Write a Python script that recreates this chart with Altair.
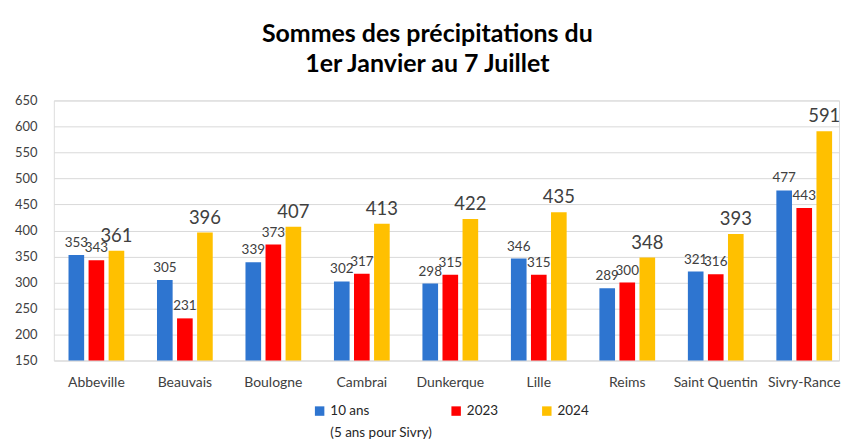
import altair as alt
import pandas as pd

cats = ["Abbeville", "Beauvais", "Boulogne", "Cambrai", "Dunkerque",
        "Lille", "Reims", "Saint Quentin", "Sivry-Rance"]
series = ["10 ans", "2023", "2024"]
v10 = [353, 305, 339, 302, 298, 346, 289, 321, 477]
v2023 = [343, 231, 373, 317, 315, 315, 300, 316, 443]
v2024 = [361, 396, 407, 413, 422, 435, 348, 393, 591]
colors = ["#2E75D0", "#FF0000", "#FFC000"]
y_ticks = [150, 200, 250, 300, 350, 400, 450, 500, 550, 600, 650]

rows = []
for s, vals in zip(series, [v10, v2023, v2024]):
    for c, v in zip(cats, vals):
        rows.append({"ville": c, "serie": s, "valeur": v})
df = pd.DataFrame(rows)

FONT = "Lato"
PAD = "\u00a0" * 7 + "\u200b"

label_expr = (
    "datum.label == '10 ans' ? ['10 ans', '(5 ans pour Sivry)'] : "
    "(datum.label == '2023' ? '2023" + PAD + "' : datum.label)"
)

x = alt.X("ville:N", sort=cats, title=None,
          scale=alt.Scale(paddingInner=0.37, paddingOuter=0.122, align=0.68),
          axis=alt.Axis(labelAngle=0, labelFontSize=14, labelColor="#404040",
                        labelFont=FONT, labelPadding=15, ticks=False,
                        domain=False))
xo = alt.XOffset("serie:N", sort=series, scale=alt.Scale(paddingInner=0.22))
y = alt.Y("valeur:Q", title=None,
          scale=alt.Scale(domain=[150, 650], zero=False, nice=False),
          axis=alt.Axis(values=y_ticks, labelFontSize=13, labelColor="#404040",
                        labelFont=FONT, labelPadding=17, ticks=False,
                        domain=False, gridColor="#d9d9d9", gridWidth=1))

color = alt.Color("serie:N", sort=series,
                  scale=alt.Scale(domain=series, range=colors),
                  legend=alt.Legend(
                      title=None, orient="none", legendX=260, legendY=305,
                      direction="horizontal", columns=3, symbolType="square",
                      symbolSize=90, labelFontSize=13.5, labelFont=FONT,
                      labelColor="#262626", columnPadding=17, gridAlign="none",
                      labelBaseline="middle", labelOffset=4,
                      labelExpr=label_expr, labelLimit=200))

base = alt.Chart(df)

bars = base.mark_bar().encode(
    x=x, xOffset=xo, y=y, y2=alt.datum(150), color=color
)

small = base.transform_filter("datum.serie != '2024'").mark_text(
    dy=-12, fontSize=13.5, font=FONT, color="#404040"
).encode(x=x, xOffset=xo, y=y, text="valeur:Q")

big = base.transform_filter("datum.serie == '2024'").mark_text(
    dy=-15, fontSize=18.5, font=FONT, color="#404040"
).encode(x=x, xOffset=xo, y=y, text="valeur:Q")

chart = alt.layer(bars, small, big).properties(
    width=788, height=261,
    padding={"left": 6, "top": 13, "right": 0, "bottom": 0},
    title=alt.Title(["Sommes des précipitations du", "1er Janvier au 7 Juillet"],
                    font=FONT, fontSize=25, fontWeight="bold", color="#000000",
                    anchor="middle", frame="bounds", lineHeight=30, offset=18),
).configure_view(stroke=None).configure(
    background="white", style={"guide-label": {"lineHeight": 22}}
)

chart.save("out.html", embed_options={"renderer": "svg", "actions": False})
